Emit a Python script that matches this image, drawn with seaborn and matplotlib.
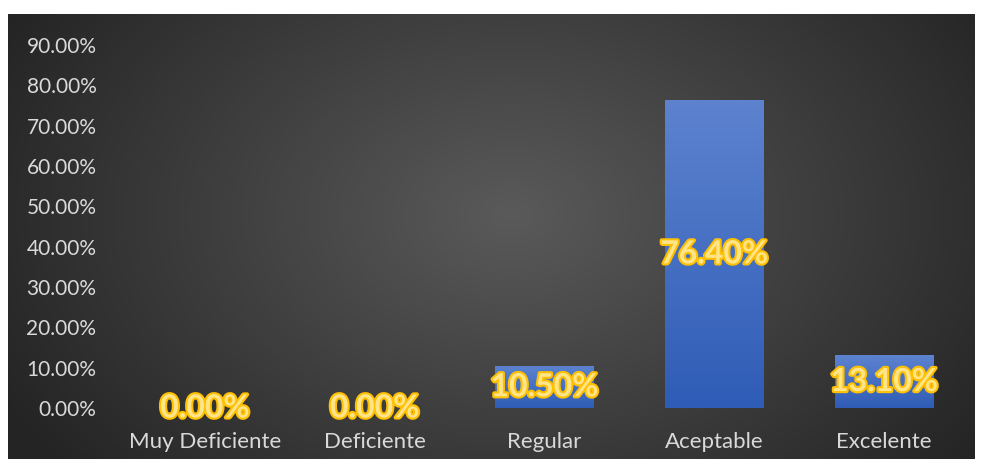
import numpy as np
import pandas as pd
import matplotlib
matplotlib.use("Agg")
import matplotlib.pyplot as plt
import matplotlib.patheffects as pe
import seaborn as sns

categorias = ["Muy Deficiente", "Deficiente", "Regular", "Aceptable", "Excelente"]
porcentajes = [0.00, 0.00, 10.50, 76.40, 13.10]
yticks = [0, 10, 20, 30, 40, 50, 60, 70, 80, 90]

df = pd.DataFrame({"categoria": categorias, "pct": porcentajes})

sns.set_style("white")
plt.rcParams["font.family"] = ["Lato", "DejaVu Sans"]

fig = plt.figure(figsize=(9.82, 4.59), dpi=100)
fig.patch.set_facecolor("white")

# dark panel with radial gradient
bg = fig.add_axes([8/982, 0, 967/982, 445/459])
bg.set_axis_off()
h, w = 300, 650
yy, xx = np.mgrid[0:h, 0:w]
cx, cy = w * 0.52, h * 0.45
r = np.sqrt(((xx - cx) / (w * 0.6)) ** 2 + ((yy - cy) / (h * 0.9)) ** 2)
r = np.clip(r, 0, 1)
c0 = np.array([0x5a, 0x5a, 0x5a]) / 255
c1 = np.array([0x24, 0x24, 0x24]) / 255
img = c0[None, None, :] * (1 - r[..., None]) + c1[None, None, :] * r[..., None]
bg.imshow(img, aspect="auto", extent=[0, 1, 0, 1])
bg.set_xlim(0, 1)
bg.set_ylim(0, 1)

ax = fig.add_axes([120/982, 51/459, 849/982, 363/459])
ax.patch.set_alpha(0)
sns.barplot(data=df, x="categoria", y="pct", color="#4472C4", saturation=1,
            width=0.58, linewidth=0, ax=ax)
ax.set_ylim(0, 90)
ax.set_xlim(-0.5, 4.5)

# vertical gradient on the bars
top = np.array([0x5d, 0x83, 0xcf]) / 255
bot = np.array([0x2f, 0x5c, 0xb6]) / 255
grad = np.linspace(0, 1, 100)[:, None, None]
gimg = top[None, None, :] * (1 - grad) + bot[None, None, :] * grad
for p in list(ax.patches):
    x0, y0 = p.get_x(), p.get_y()
    bw, bh = p.get_width(), p.get_height()
    if bh <= 0:
        continue
    im = ax.imshow(gimg, aspect="auto", extent=[x0, x0 + bw, y0, y0 + bh],
                   zorder=p.get_zorder() + 0.1)
    im.set_clip_path(p)
ax.set_xlim(-0.5, 4.5)
ax.set_ylim(0, 90)

ax.set_yticks(yticks)
ax.set_yticklabels([f"{t:.2f}%" for t in yticks])
ax.set_xlabel("")
ax.set_ylabel("")
for s in ax.spines.values():
    s.set_visible(False)
ax.tick_params(axis="both", length=0, colors="#D9D9D9")
ax.tick_params(axis="y", pad=17, labelsize=15)
ax.tick_params(axis="x", pad=17, labelsize=16)

for i, v in enumerate(porcentajes):
    ax.text(i, v / 2, f"{v:.2f}%", ha="center", va="center", fontsize=23,
            fontweight="bold", color="#FFE48A", zorder=5,
            path_effects=[pe.withStroke(linewidth=3, foreground="#FFC000")])

fig.savefig("out.png", dpi=100)
